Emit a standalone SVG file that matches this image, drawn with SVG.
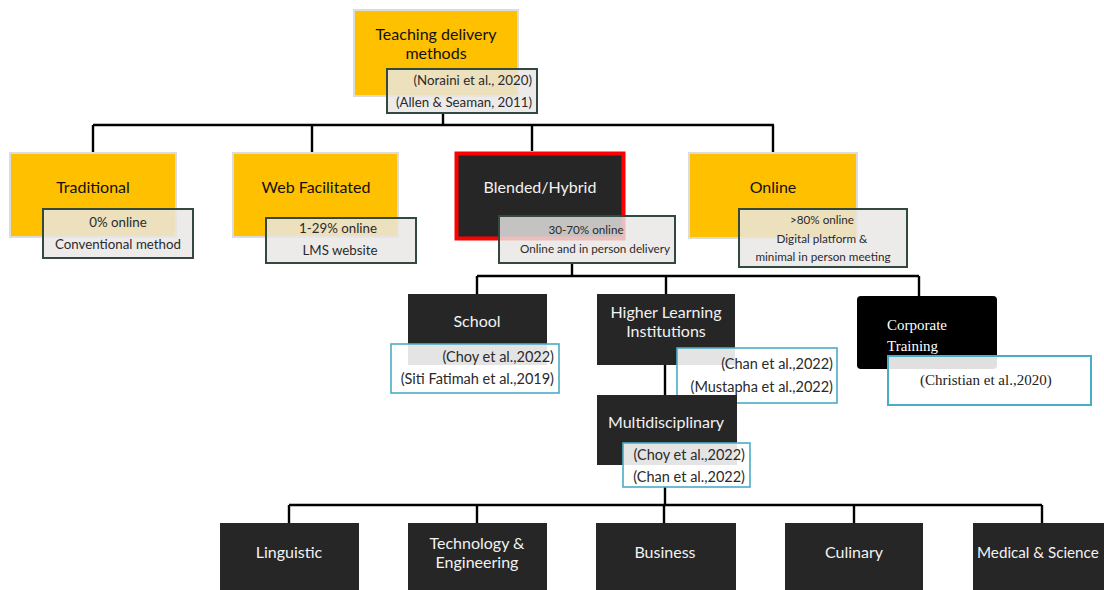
<svg xmlns="http://www.w3.org/2000/svg" width="1104" height="590" viewBox="0 0 1104 590">
<style>
.bg{fill:#ffffff}
.yel{fill:#FFC000;stroke:#dcdcdc;stroke-width:2}
.dark{fill:#262626}
.ann{fill:#e9e7e5;fill-opacity:0.82;stroke:#33493f;stroke-width:2}
.cann{fill:#ffffff;fill-opacity:0.88;stroke:#4BACC6;stroke-width:1.6}
.line{fill:none;stroke:#000;stroke-width:2.4}
.t{font-family:Lato,"Liberation Sans",sans-serif;text-anchor:middle}
.tt{font-size:16px;fill:#111}
.tw{font-size:16px;fill:#f2f2f2}
.ta{font-size:13.3px;fill:#2a2a2a}
.tc{font-size:14.5px;fill:#2a2a2a}
.ts{font-size:11.7px;fill:#2a2a2a}
.r{text-anchor:end}
.serif{font-family:"Liberation Serif","Times New Roman",serif}
</style>
<rect class="bg" x="0" y="0" width="1104" height="590"/>
<g id="connectors">
<path class="line" d="M443,113 V125 M93,125 H774 M93,125 V153 M312,125 V153 M532,125 V151 M773,125 V153"/>
<path class="line" d="M572,263 V276 M477,276 H919 M477,276 V294 M666,276 V294 M919,276 V296"/>
<path class="line" d="M665,365 V395"/>
<path class="line" d="M665,487 V505 M289,505 H1042 M289,505 V523 M477,505 V523 M664,505 V523 M854,505 V523 M1042,505 V523"/>
</g>
<g id="teaching">
<rect class="yel" x="354" y="10" width="164" height="86"/>
<text class="t tt" x="436" y="40">Teaching delivery</text>
<text class="t tt" x="436" y="59">methods</text>
<rect class="ann" x="387" y="69" width="150" height="44"/>
<text class="t ta r" x="532" y="85">(Noraini et al., 2020)</text>
<text class="t ta r" x="532" y="107">(Allen &amp; Seaman, 2011)</text>
</g>
<g id="traditional">
<rect class="yel" x="10" y="153" width="166" height="84"/>
<text class="t tt" x="93" y="193">Traditional</text>
<rect class="ann" x="43" y="209" width="150" height="49"/>
<text class="t ta" x="118" y="227">0% online</text>
<text class="t ta" x="118" y="249">Conventional method</text>
</g>
<g id="web">
<rect class="yel" x="233" y="153" width="165" height="84"/>
<text class="t tt" x="316" y="193">Web Facilitated</text>
<rect class="ann" x="266" y="218" width="150" height="45"/>
<text class="t ta" x="338" y="233">1-29% online</text>
<text class="t ta" x="340" y="255">LMS website</text>
</g>
<g id="blended">
<rect x="456.5" y="153.5" width="167" height="85" fill="#262626" stroke="#ff0000" stroke-width="4"/>
<text class="t tw" x="540" y="193">Blended/Hybrid</text>
<rect class="ann" x="499" y="216" width="176" height="47"/>
<text class="t ts" x="586" y="234">30-70% online</text>
<text class="t ts" x="595" y="253">Online and in person delivery</text>
</g>
<g id="online">
<rect class="yel" x="689" y="153" width="168" height="85"/>
<text class="t tt" x="773" y="193">Online</text>
<rect class="ann" x="739" y="209" width="168" height="58"/>
<text class="t ts" x="822" y="224">&gt;80% online</text>
<text class="t ts" x="822" y="243">Digital platform &amp;</text>
<text class="t ts" x="823" y="261">minimal in person meeting</text>
</g>
<g id="school">
<rect class="dark" x="408" y="294" width="139" height="71"/>
<text class="t tw" x="477" y="327">School</text>
<rect class="cann" x="391" y="344" width="168" height="49"/>
<text class="t tc r" x="554" y="362">(Choy et al.,2022)</text>
<text class="t tc r" x="554" y="384">(Siti Fatimah et al.,2019)</text>
</g>
<g id="hli">
<rect class="dark" x="597" y="294" width="138" height="71"/>
<text class="t tw" x="666" y="318">Higher Learning</text>
<text class="t tw" x="666" y="337">Institutions</text>
<rect class="cann" x="677" y="348" width="160" height="55"/>
<text class="t tc r" x="833" y="369">(Chan et al.,2022)</text>
<text class="t tc r" x="833" y="392">(Mustapha et al.,2022)</text>
</g>
<g id="corporate">
<rect x="857" y="296" width="140" height="73" rx="4" fill="#000"/>
<text class="serif" x="887" y="330" font-size="15" fill="#fff">Corporate</text>
<text class="serif" x="887" y="351" font-size="15" fill="#fff">Training</text>
<rect x="888" y="356" width="203" height="49" fill="#ffffff" fill-opacity="0.88" stroke="#4BACC6" stroke-width="2"/>
<text class="serif" x="920" y="385" font-size="15" fill="#222">(Christian et al.,2020)</text>
</g>
<g id="multidisciplinary">
<rect class="dark" x="597" y="395" width="140" height="70"/>
<text class="t tw" x="666" y="428">Multidisciplinary</text>
<rect class="cann" x="623" y="443" width="127" height="44"/>
<text class="t tc r" x="745" y="460">(Choy et al.,2022)</text>
<text class="t tc r" x="745" y="482">(Chan et al.,2022)</text>
</g>
<g id="linguistic">
<rect class="dark" x="220" y="523" width="139" height="67"/>
<text class="t tw" x="289" y="558">Linguistic</text>
</g>
<g id="technology">
<rect class="dark" x="408" y="523" width="139" height="67"/>
<text class="t tw" x="477" y="549">Technology &amp;</text>
<text class="t tw" x="477" y="568">Engineering</text>
</g>
<g id="business">
<rect class="dark" x="596" y="523" width="140" height="67"/>
<text class="t tw" x="665" y="558">Business</text>
</g>
<g id="culinary">
<rect class="dark" x="785" y="523" width="138" height="67"/>
<text class="t tw" x="854" y="558">Culinary</text>
</g>
<g id="medical">
<rect class="dark" x="973" y="523" width="140" height="67"/>
<text class="t" x="977" y="558" style="text-anchor:start;font-size:15.2px;fill:#f2f2f2">Medical &amp; Science</text>
</g>
</svg>
